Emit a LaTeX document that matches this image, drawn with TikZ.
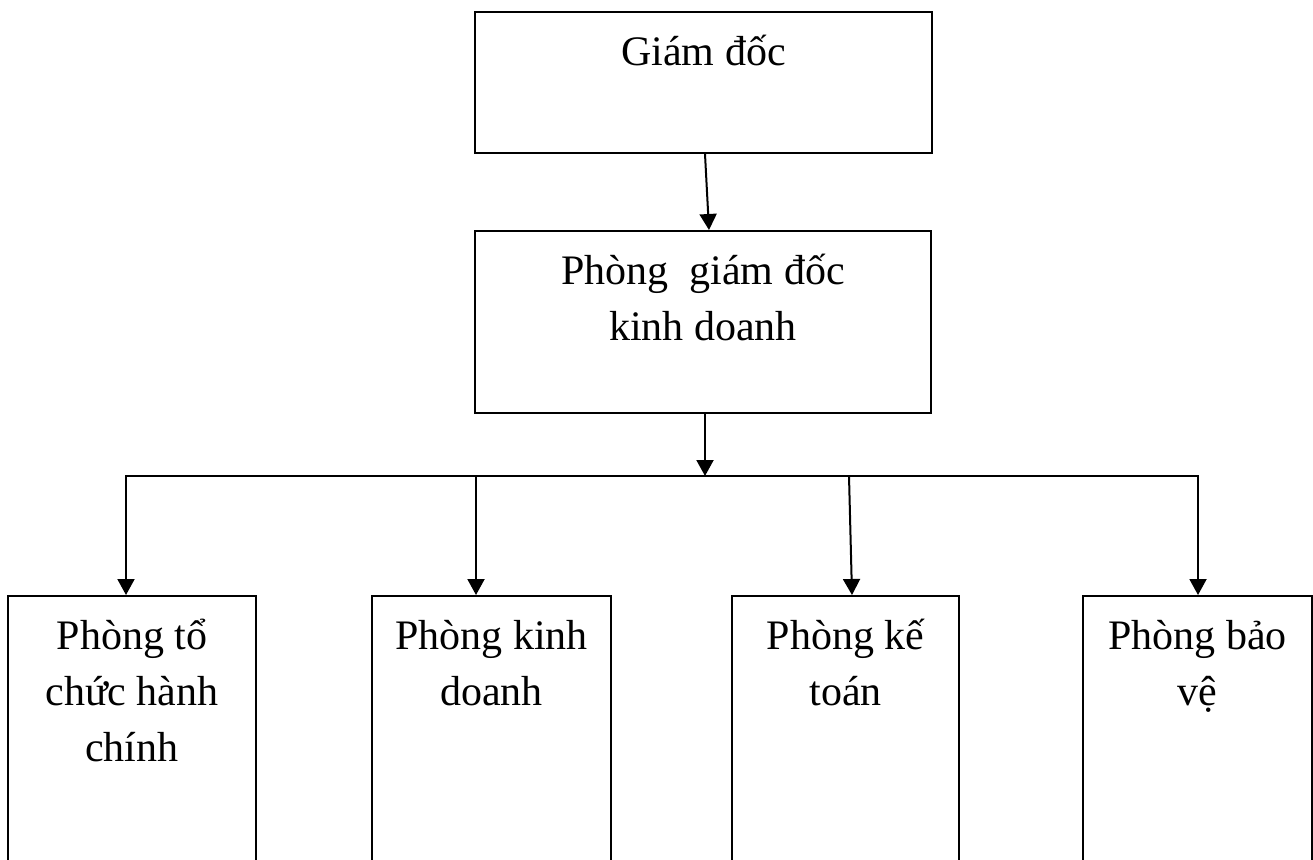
\documentclass[tikz,border=0pt]{standalone}
\usepackage{fontspec}
\setmainfont{Liberation Serif}
\usetikzlibrary{arrows.meta}
% fixed-height strut so every first line sits at the same baseline
\newcommand\lnstrut{\rule{0pt}{44pt}}
\begin{document}
\begin{tikzpicture}[x=1pt,y=-1pt,
  box/.style={draw, line width=2pt, inner sep=0pt},
  lbl/.style={anchor=north, align=center, inner sep=0pt,
              font=\fontsize{42}{56}\selectfont},
  conn/.style={line width=2pt},
  arr/.style={conn, -{Triangle[width=17pt,length=16pt]}}]
  \useasboundingbox (0,0) rectangle (1313,859);
  \clip (0,0) rectangle (1313,859);

  % boxes
  \node[box, minimum width=457pt, minimum height=141pt] (gd)  at (703.5,82.5) {};
  \node[box, minimum width=456pt, minimum height=182pt] (pgd) at (703,322) {};
  \node[box, minimum width=248pt, minimum height=310pt] (b1) at (132,751) {};
  \node[box, minimum width=239pt, minimum height=310pt] (b2) at (491.5,751) {};
  \node[box, minimum width=227pt, minimum height=310pt] (b3) at (845.5,751) {};
  \node[box, minimum width=229pt, minimum height=310pt] (b4) at (1197.5,751) {};

  % labels
  \node[lbl] (gdt)  at ([yshift=-10pt]gd.north)  {\lnstrut Giám đốc};
  \node[lbl] (pgdt) at ([yshift=-10pt]pgd.north) {\lnstrut Phòng\ \ giám đốc\\kinh doanh};
  \node[lbl] (b1t)  at ([yshift=-10pt]b1.north)  {\lnstrut Phòng tổ\\chức hành\\chính};
  \node[lbl] (b2t)  at ([yshift=-10pt]b2.north)  {\lnstrut Phòng kinh\\doanh};
  \node[lbl] (b3t)  at ([yshift=-10pt]b3.north)  {\lnstrut Phòng kế\\toán};
  \node[lbl] (b4t)  at ([yshift=-10pt]b4.north)  {\lnstrut Phòng bảo\\vệ};

  % connectors
  \coordinate (hub)  at (705,476);
  \coordinate (busL) at (126,476);
  \coordinate (busR) at (1198,476);
  \coordinate (d2)   at (476,476);
  \coordinate (d3)   at (849,476);

  \draw[arr] ([xshift=1.5pt]gd.south) -- ([xshift=6pt]pgd.north);
  \draw[arr] ([xshift=2pt]pgd.south) -- (hub);
  \draw[arr] (hub) -- (busL) -- (busL |- b1.north);
  \draw[arr] (hub) -- (busR) -- (busR |- b4.north);
  \draw[arr] (d2) -- (d2 |- b2.north);
  \draw[arr] (d3) -- ([xshift=6.5pt]b3.north);
\end{tikzpicture}
\end{document}
